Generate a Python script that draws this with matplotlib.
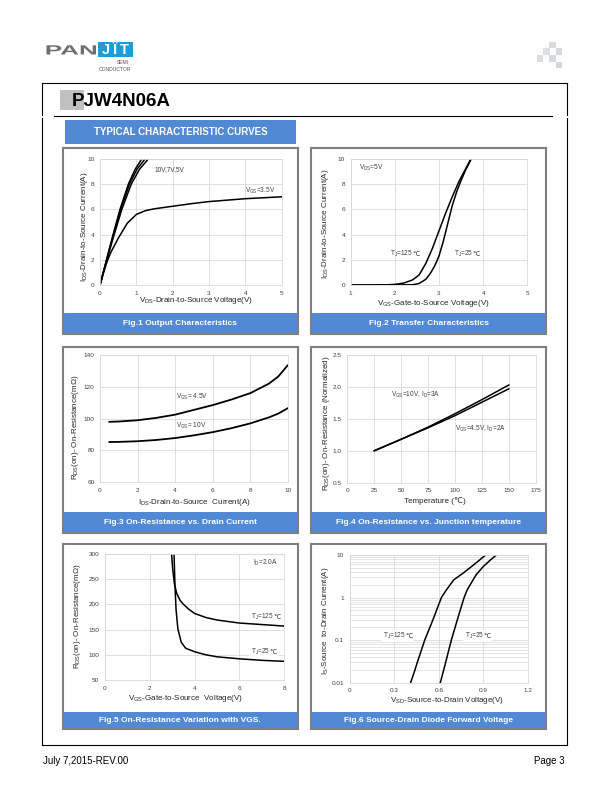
import matplotlib
matplotlib.use('Agg')
import matplotlib.pyplot as plt
from matplotlib.patches import Rectangle, PathPatch
from matplotlib.textpath import TextPath
from matplotlib.font_manager import FontProperties
from matplotlib.transforms import Affine2D
from matplotlib.ticker import FuncFormatter, LogLocator, NullFormatter

plt.rcParams['font.family'] = ['Liberation Sans', 'DejaVu Sans']
plt.rcParams['mathtext.fontset'] = 'custom'
plt.rcParams['mathtext.rm'] = 'Liberation Sans'
plt.rcParams['mathtext.it'] = 'Liberation Sans:italic'
plt.rcParams['mathtext.bf'] = 'Liberation Sans:bold'

# ---- data ----
# Fig.1 output characteristics
vds_10v = [0, 0.18, 0.36, 0.55, 0.78, 0.97, 1.15]
vds_7v = [0, 0.18, 0.37, 0.57, 0.81, 1.02, 1.24]
vds_5v = [0, 0.19, 0.39, 0.60, 0.86, 1.09, 1.33]
id_hi = [0, 2, 4, 6, 8, 9.2, 10]
vds_35v = [0, 0.1, 0.2, 0.3, 0.5, 0.75, 1.0, 1.25, 1.5, 2.0, 2.5, 3.0, 4.0, 5.0]
id_35v = [0, 1.0, 1.9, 2.6, 3.7, 4.9, 5.6, 5.9, 6.05, 6.25, 6.45, 6.62, 6.85, 7.0]

# Fig.2 transfer characteristics
vgs_t125 = [1.0, 1.5, 1.8, 2.0, 2.2, 2.4, 2.55, 2.7, 2.85, 3.0, 3.15, 3.3, 3.45, 3.6, 3.72]
id_t125 = [0, 0, 0.01, 0.05, 0.15, 0.4, 0.8, 1.7, 2.9, 4.3, 5.7, 7.0, 8.2, 9.2, 10]
vgs_t25 = [1.0, 2.0, 2.4, 2.55, 2.7, 2.8, 2.9, 3.0, 3.1, 3.2, 3.3, 3.4, 3.5, 3.6, 3.73]
id_t25 = [0, 0, 0.02, 0.12, 0.45, 0.9, 1.5, 2.3, 3.5, 4.9, 6.3, 7.4, 8.3, 9.1, 10]

# Fig.3 on-resistance vs drain current
ids_r = [0.5, 1, 2, 3, 4, 5, 6, 7, 8, 9, 9.5, 10]
r_vgs45 = [98, 98.2, 99, 100.5, 102.5, 105.5, 108.5, 112, 116, 122, 126.5, 133.5]
r_vgs10 = [85.3, 85.4, 85.8, 86.6, 87.8, 89.5, 91.5, 94, 97, 100.8, 103.2, 106.5]

# Fig.4 normalized on-resistance vs temperature
temp = [25, 50, 75, 100, 125, 150]
rn_10v = [1.0, 1.18, 1.37, 1.58, 1.80, 2.03]
rn_45v = [1.0, 1.18, 1.36, 1.55, 1.76, 1.97]

# Fig.5 on-resistance vs VGS
vgs5_25 = [3.08, 3.12, 3.17, 3.25, 3.4, 3.6, 4.0, 4.5, 5.0, 6.0, 7.0, 8.0]
r5_25 = [300, 240, 190, 152, 125, 113, 106, 100, 96, 92, 89, 87]
vgs5_125 = [2.97, 3.02, 3.1, 3.2, 3.35, 3.5, 3.75, 4.0, 4.5, 5.0, 6.0, 7.0, 8.0]
r5_125 = [300, 270, 240, 222, 208, 200, 190, 182, 174, 169, 163, 160, 157]

# Fig.6 diode forward voltage
vsd_125 = [0.41, 0.435, 0.46, 0.505, 0.56, 0.617, 0.65, 0.7, 0.774, 0.85, 0.915]
is_125 = [0.01, 0.018, 0.034, 0.1, 0.3, 1.0, 1.5, 2.6, 4.0, 6.5, 10]
vsd_25 = [0.61, 0.64, 0.684, 0.73, 0.77, 0.79, 0.85, 0.9, 0.95, 0.987]
is_25 = [0.01, 0.025, 0.1, 0.35, 1.0, 1.5, 3.4, 5.4, 7.8, 10]

captions = ['Fig.1 Output Characteristics',
            'Fig.2 Transfer Characteristics',
            'Fig.3 On-Resistance vs. Drain Current',
            'Fig.4 On-Resistance vs. Junction temperature',
            'Fig.5 On-Resistance Variation with VGS.',
            'Fig.6 Source-Drain Diode Forward Voltage']

W, H = 612, 792
BLUE = '#5289d4'
GRID = '#d9d9d9'
TXT = '#404040'
PGRAY = '#7f7f7f'

fig = plt.figure(figsize=(W / 100, H / 100), dpi=100)
bg = fig.add_axes([0, 0, 1, 1])
bg.set_xlim(0, W)
bg.set_ylim(H, 0)
bg.axis('off')
renderer = fig.canvas.get_renderer()


def box(x0, y0, x1, y1):
    # pixel box -> figure fraction
    return [x0 / W, 1 - y1 / H, (x1 - x0) / W, (y1 - y0) / H]


def fitted_text(s, x0, y0, x1, y1, color, weight='bold'):
    # text outline stretched to fill a pixel box (logo lettering is extended)
    tp = TextPath((0, 0), s, size=10, prop=FontProperties(family='Liberation Sans', weight=weight))
    e = tp.get_extents()
    sx = (x1 - x0) / e.width
    sy = (y1 - y0) / e.height
    tr = Affine2D().translate(-e.x0, -e.y0).scale(sx, -sy).translate(x0, y1)
    bg.add_patch(PathPatch(tr.transform_path(tp), color=color, lw=0))


# ---- header ----
fitted_text('PAN', 46.5, 45.3, 96, 54.5, '#6f6f6f')
bg.add_patch(Rectangle((98.3, 42.3), 35, 14.4, color='#1b9dd9', lw=0))
for ch, cx in zip(['J', 'Ï', 'T'], [105.5, 114, 124]):
    bg.text(cx, 50, ch, ha='center', va='center', fontsize=10.5,
            fontweight='bold', color='white')
bg.text(129, 63, 'SEMI', ha='right', va='center', fontsize=3.6, color='#555555')
bg.text(131, 69.7, 'CONDUCTOR', ha='right', va='center', fontsize=3.6, color='#555555')

sq = 6.6
deco = [(549, 41.7, '#d8dbde'), (543, 48.3, '#dcdfe2'), (555.7, 48.3, '#d5d8dc'),
        (536.7, 55, '#dadde0'), (549, 55, '#d6d9dd'), (555.7, 61.7, '#d3d6da')]
for dx, dy, c in deco:
    bg.add_patch(Rectangle((dx, dy), sq, sq, color=c, lw=0))

# outer frame
lw_frame = 0.8
bg.plot([42.2, 567.3], [83.3, 83.3], color='black', lw=lw_frame)
bg.plot([42.2, 567.3], [745, 745], color='black', lw=lw_frame)
for xs in (42.2, 567.3):
    bg.plot([xs, xs], [83.3, 115], color='black', lw=lw_frame)
    bg.plot([xs, xs], [117.5, 745], color='black', lw=lw_frame)

bg.add_patch(Rectangle((60.4, 90), 23.4, 20, color='#c0c0c0', lw=0))
bg.text(72, 106, 'PJW4N06A', ha='left', va='baseline', fontsize=13.5,
        fontweight='bold', color='black')
bg.plot([54.1, 552.4], [116, 116], color='black', lw=lw_frame)

bg.add_patch(Rectangle((64.9, 120), 231.1, 24, color=BLUE, lw=0))
bg.text(180.5, 132.3, 'TYPICAL CHARACTERISTIC CURVES', ha='center', va='center',
        fontsize=7, fontweight='bold', color='white')

# footer
bg.text(43, 761, 'July 7,2015-REV.00', ha='left', va='center', fontsize=7, color='black')
bg.text(565, 761, 'Page 3', ha='right', va='center', fontsize=7, color='black')

# ---- panels ----
cols = [(61.7, 298.7), (310, 547.3)]
rows = [(146.7, 335.3, 313.3), (345.7, 533.7, 511.7), (543.3, 730, 711.7)]
k = 0
for (y0, y1, bar) in rows:
    for (x0, x1) in cols:
        bg.add_patch(Rectangle((x0 + 1, y0 + 1), x1 - x0 - 2, y1 - y0 - 2,
                               fc='white', ec=PGRAY, lw=1.5))
        bg.add_patch(Rectangle((x0 + 2, bar), x1 - x0 - 4, y1 - 2 - bar,
                               color=BLUE, lw=0))
        bg.text((x0 + x1) / 2, (bar + y1 - 2) / 2 + 0.3, captions[k], ha='center',
                va='center', fontsize=6, fontweight='bold', color='white')
        k += 1


def setup(ax, xlim, ylim, xticks, yticks):
    ax.set_xlim(*xlim)
    ax.set_ylim(*ylim)
    ax.set_xticks(xticks)
    ax.set_yticks(yticks)
    ax.grid(True, color=GRID, lw=0.6)
    ax.set_axisbelow(True)
    for s in ax.spines.values():
        s.set_color(GRID)
        s.set_linewidth(0.6)
    ax.tick_params(length=0, labelsize=4.6, colors=TXT, pad=4)


LW = 1.1
FS = 4.7
fmt_g = FuncFormatter(lambda v, p: '%g' % v)


def tj_label(ax, x, y, t, boxed=False):
    t1 = ax.text(x, y, r'T$_{\rm J}$=' + t, ha='left', va='baseline',
                 fontsize=FS, color=TXT, zorder=4)
    bb1 = t1.get_window_extent(renderer)
    inv = ax.transData.inverted()
    xr = inv.transform((bb1.x1 - 0.6, bb1.y0))[0]
    t2 = ax.text(xr, y, '℃', ha='left', va='baseline', family='DejaVu Sans',
                 fontsize=FS, color=TXT, zorder=4)
    if boxed:
        bb2 = t2.get_window_extent(renderer)
        (bx0, by0) = inv.transform((bb1.x0 - 1.5, min(bb1.y0, bb2.y0) - 1))
        (bx1, by1) = inv.transform((bb2.x1 + 1.5, max(bb1.y1, bb2.y1) + 1))
        ax.add_patch(Rectangle((bx0, by0), bx1 - bx0, by1 - by0, fc='white',
                               ec='none', zorder=1.5))


# Fig.1
ax1 = fig.add_axes(box(100, 159, 281.7, 285))
setup(ax1, (0, 5), (0, 10), range(0, 6), range(0, 11, 2))
ax1.plot(vds_10v, id_hi, color='black', lw=LW)
ax1.plot(vds_7v, id_hi, color='black', lw=LW)
ax1.plot(vds_5v, id_hi, color='black', lw=LW)
ax1.plot(vds_35v, id_35v, color='black', lw=LW)
ax1.text(1.51, 9.2, '10V,7V,5V', fontsize=FS, color=TXT, va='center')
ax1.text(3.99, 7.5, r'V$_{\rm GS}$=3.5V', fontsize=FS, color=TXT, va='center')

# Fig.2
ax2 = fig.add_axes(box(350.7, 159, 527.3, 285))
setup(ax2, (1, 5), (0, 10), range(1, 6), range(0, 11, 2))
ax2.plot(vgs_t125, id_t125, color='black', lw=LW)
ax2.plot(vgs_t25, id_t25, color='black', lw=LW)
ax2.text(1.18, 9.26, r'V$_{\rm DS}$=5V', fontsize=FS, color=TXT, va='center')
tj_label(ax2, 1.9, 2.3, '125')
tj_label(ax2, 3.33, 2.3, '25')

# Fig.3
ax3 = fig.add_axes(box(100, 355, 287.7, 482.3))
setup(ax3, (0, 10), (60, 140), range(0, 11, 2), range(60, 141, 20))
ax3.plot(ids_r, r_vgs45, color='black', lw=LW + 0.2)
ax3.plot(ids_r, r_vgs10, color='black', lw=LW + 0.2)
ax3.text(4.05, 113.4, r'V$_{\rm GS}$= 4.5V', fontsize=FS, color=TXT, va='center')
ax3.text(4.05, 95.6, r'V$_{\rm GS}$= 10V', fontsize=FS, color=TXT, va='center')

# Fig.4
ax4 = fig.add_axes(box(347.3, 355, 535.7, 482.7))
setup(ax4, (0, 175), (0.5, 2.5), range(0, 176, 25), [0.5, 1.0, 1.5, 2.0, 2.5])
ax4.yaxis.set_major_formatter(FuncFormatter(lambda v, p: '%.1f' % v))
ax4.plot(temp, rn_10v, color='black', lw=LW)
ax4.plot(temp, rn_45v, color='black', lw=LW)
ax4.text(40.3, 1.87, r'V$_{\rm GS}$=10V, I$_{\rm D}$=3A', fontsize=FS, color=TXT, va='center')
ax4.text(99.7, 1.335, r'V$_{\rm GS}$=4.5V, I$_{\rm D}$=2A', fontsize=FS, color=TXT, va='center')

# Fig.5
ax5 = fig.add_axes(box(105, 554, 284.3, 680))
setup(ax5, (0, 8), (50, 300), range(0, 9, 2), range(50, 301, 50))
ax5.plot(vgs5_125, r5_125, color='black', lw=LW)
ax5.plot(vgs5_25, r5_25, color='black', lw=LW)
ax5.text(6.62, 281.5, r'I$_{\rm D}$=2.0A', fontsize=FS, color=TXT, va='center')
tj_label(ax5, 6.5, 171, '125', boxed=True)
tj_label(ax5, 6.5, 101, '25', boxed=True)

# Fig.6
ax6 = fig.add_axes(box(349.7, 555, 528, 682.7))
ax6.set_yscale('log')
setup(ax6, (0, 1.2), (0.01, 10), [0, 0.3, 0.6, 0.9, 1.2], [0.01, 0.1, 1, 10])
ax6.yaxis.set_minor_locator(LogLocator(base=10, subs=range(2, 10)))
ax6.yaxis.set_minor_formatter(NullFormatter())
ax6.grid(True, which='minor', axis='y', color=GRID, lw=0.5)
ax6.tick_params(which='minor', length=0)
ax6.xaxis.set_major_formatter(fmt_g)
ax6.yaxis.set_major_formatter(fmt_g)
ax6.plot(vsd_125, is_125, color='black', lw=LW)
ax6.plot(vsd_25, is_25, color='black', lw=LW)
tj_label(ax6, 0.224, 0.112, '125', boxed=True)
tj_label(ax6, 0.774, 0.112, '25', boxed=True)

# axis titles, placed in page pixels
xlabels = [(195.7, 301, r'V$_{\rm DS}$-Drain-to-Source Voltage(V)'),
           (433.7, 303.3, r'V$_{\rm GS}$-Gate-to-Source Voltage(V)'),
           (194.7, 502.3, r'I$_{\rm DS}$-Drain-to-Source  Current(A)'),
           (435, 500.7, 'Temperature (℃)'),
           (185, 698.7, r'V$_{\rm GS}$-Gate-to-Source  Voltage(V)'),
           (447.3, 700, r'V$_{\rm SD}$-Source-to-Drain Voltage(V)')]
ylabels = [(84.8, 226.7, r'I$_{\rm DS}$-Drain-to-Source Current(A)'),
           (325.3, 223.3, r'I$_{\rm DS}$-Drain-to-Source Current(A)'),
           (75.7, 427.3, r'R$_{\rm DS}$(on)- On-Resistance(mΩ)'),
           (326.3, 423.3, r'R$_{\rm DS}$(on)- On-Resistance (Normalized)'),
           (77.3, 616, r'R$_{\rm DS}$(on)- On-Resistance(mΩ)'),
           (325.3, 620.7, r'I$_{\rm S}$-Source  to-Drain Current(A)')]
for x, y, s in xlabels:
    bg.text(x, y, s, ha='center', va='center', fontsize=5.8, color='#262626')
for x, y, s in ylabels:
    bg.text(x, y, s, ha='center', va='center', rotation=90, fontsize=5.8, color='#262626')

fig.savefig('out.png', dpi=100)
